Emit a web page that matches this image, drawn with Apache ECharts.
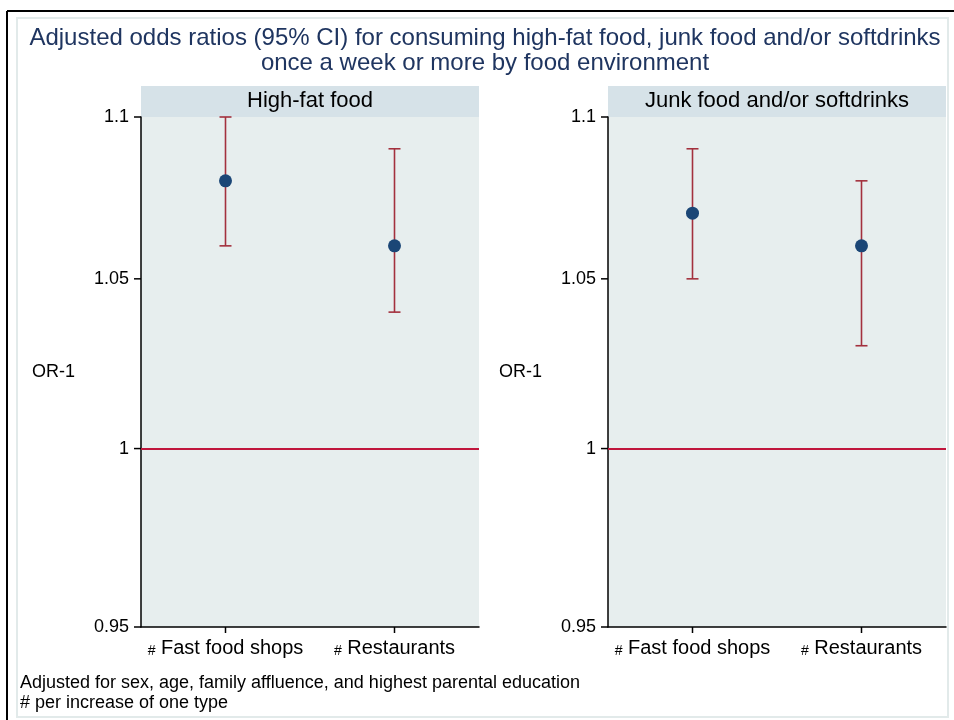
<!DOCTYPE html>
<html><head><meta charset="utf-8">
<script src="https://cdn.jsdelivr.net/npm/echarts@6/dist/echarts.min.js"></script>
<style>html,body{margin:0;padding:0;background:#fff}#c{width:954px;height:720px}</style>
</head><body><div id="c"></div>
<script>
const titleLines = ['Adjusted odds ratios (95% CI) for consuming high-fat food, junk food and/or softdrinks', 'once a week or more by food environment'];
const panelTitles = ['High-fat food', 'Junk food and/or softdrinks'];
const categories = ['# Fast food shops', '# Restaurants'];
const highFatOR = [1.08, 1.06];
const highFatLow = [1.06, 1.04];
const highFatHigh = [1.10, 1.09];
const junkOR = [1.07, 1.06];
const junkLow = [1.05, 1.03];
const junkHigh = [1.09, 1.08];
const yTicks = [0.95, 1, 1.05, 1.1];
const refValue = 1;
const yName = 'OR-1';
const notes = ['Adjusted for sex, age, family affluence, and highest parental education', '# per increase of one type'];

const FONT = '"Liberation Sans", Arial, sans-serif';
const panels = [
  {left: 141, or: highFatOR, lo: highFatLow, hi: highFatHigh},
  {left: 608, or: junkOR, lo: junkLow, hi: junkHigh}
];
const PW = 338, PT = 117, PH = 510;

const chart = echarts.init(document.getElementById('c'), null, {renderer: 'canvas'});
const grids = [], xAxes = [], yAxes = [], series = [];
const graphics = [
  {type: 'rect', shape: {x: 17, y: 18, width: 931, height: 699}, style: {fill: '#fff', stroke: '#e2eaea', lineWidth: 2}, z: -10},
  {type: 'line', shape: {x1: 7, y1: 11, x2: 954, y2: 11}, style: {stroke: '#000', lineWidth: 2}},
  {type: 'line', shape: {x1: 7, y1: 11, x2: 7, y2: 720}, style: {stroke: '#000', lineWidth: 2}},
  {type: 'text', x: 485, y: 38, style: {text: titleLines[0], font: '24px ' + FONT, fill: '#1f3560', align: 'center', verticalAlign: 'middle'}},
  {type: 'text', x: 485, y: 63, style: {text: titleLines[1], font: '24px ' + FONT, fill: '#1f3560', align: 'center', verticalAlign: 'middle'}},
  {type: 'text', x: 20, y: 683, style: {text: notes[0], font: '18px ' + FONT, fill: '#000', align: 'left', verticalAlign: 'middle'}},
  {type: 'text', x: 20, y: 703, style: {text: notes[1], font: '18px ' + FONT, fill: '#000', align: 'left', verticalAlign: 'middle'}}
];
const tickStyle = {stroke: '#000', lineWidth: 1.5};

panels.forEach((p, i) => {
  grids.push({left: p.left, top: PT, width: PW, height: PH, show: true, backgroundColor: '#e7eeee', borderWidth: 0});
  graphics.push({type: 'rect', shape: {x: p.left, y: 86, width: PW, height: 31}, style: {fill: '#d6e2e8'}, z: -1});
  graphics.push({type: 'text', x: p.left + PW / 2, y: 101, style: {text: panelTitles[i], font: '22px ' + FONT, fill: '#000', align: 'center', verticalAlign: 'middle'}});
  graphics.push({type: 'text', x: p.left - 109, y: 372, style: {text: yName, font: '18px ' + FONT, fill: '#000', align: 'left', verticalAlign: 'middle'}});
  xAxes.push({
    type: 'category', gridIndex: i, data: categories, boundaryGap: true,
    axisLine: {lineStyle: {color: '#000', width: 1.5}},
    axisTick: {show: false},
    axisLabel: {interval: 0, margin: 11, color: '#000', fontFamily: FONT, fontSize: 20,
      formatter: v => v.replace('# ', '{h|#} '),
      rich: {h: {fontSize: 14, fontFamily: FONT, color: '#000', verticalAlign: 'bottom', padding: [4, 0, 0, 0]}}}
  });
  yAxes.push({
    type: 'log', gridIndex: i, min: yTicks[0], max: yTicks[yTicks.length - 1], logBase: 10,
    axisLine: {show: true, lineStyle: {color: '#000', width: 1.5}},
    axisTick: {show: false},
    axisLabel: {customValues: yTicks, color: '#000', fontFamily: FONT, fontSize: 18, margin: 12,
      formatter: v => String(+(+v).toFixed(2))},
    splitLine: {show: false}
  });
  // x-axis ticks
  series.push({
    type: 'custom', xAxisIndex: i, yAxisIndex: i, z: 5, clip: false, silent: true,
    data: categories.map((c, k) => [k, yTicks[0]]),
    renderItem: (params, api) => {
      const pt = api.coord([api.value(0), api.value(1)]);
      return {type: 'line', shape: {x1: pt[0], y1: pt[1], x2: pt[0], y2: pt[1] + 6}, style: tickStyle};
    }
  });
  series.push({
    type: 'custom', xAxisIndex: i, yAxisIndex: i, z: 3,
    data: categories.map((c, k) => [k, p.lo[k], p.hi[k]]),
    renderItem: (params, api) => {
      const x = api.value(0);
      const a = api.coord([x, api.value(1)]);
      const b = api.coord([x, api.value(2)]);
      const w = 6;
      const st = {stroke: '#a3303d', lineWidth: 1.6};
      return {type: 'group', children: [
        {type: 'line', shape: {x1: a[0], y1: a[1], x2: b[0], y2: b[1]}, style: st},
        {type: 'line', shape: {x1: a[0] - w, y1: a[1], x2: a[0] + w, y2: a[1]}, style: st},
        {type: 'line', shape: {x1: b[0] - w, y1: b[1], x2: b[0] + w, y2: b[1]}, style: st}
      ]};
    }
  });
  series.push({
    type: 'scatter', xAxisIndex: i, yAxisIndex: i, z: 4, symbol: 'circle', symbolSize: 13,
    itemStyle: {color: '#1b4676', opacity: 1},
    data: categories.map((c, k) => [k, p.or[k]]),
    markLine: {silent: true, symbol: 'none', label: {show: false},
      lineStyle: {color: '#c0163c', width: 2, type: 'solid'},
      data: [{yAxis: refValue}], animation: false}
  });
});

// hidden value x-axes (0 = left edge of each plot) used only to place the y-axis ticks
panels.forEach((p, i) => {
  const axisIdx = xAxes.length;
  xAxes.push({type: 'value', gridIndex: i, min: 0, max: 1, show: false, position: 'top'});
  series.push({
    type: 'custom', xAxisIndex: axisIdx, yAxisIndex: i, z: 6, clip: false, silent: true,
    data: yTicks.map(v => [0, v]),
    renderItem: (params, api) => {
      const pt = api.coord([api.value(0), api.value(1)]);
      return {type: 'line', shape: {x1: pt[0] - 7, y1: pt[1], x2: pt[0], y2: pt[1]}, style: tickStyle};
    }
  });
});

chart.setOption({
  animation: false,
  grid: grids, xAxis: xAxes, yAxis: yAxes, series: series, graphic: graphics
});
</script></body></html>
